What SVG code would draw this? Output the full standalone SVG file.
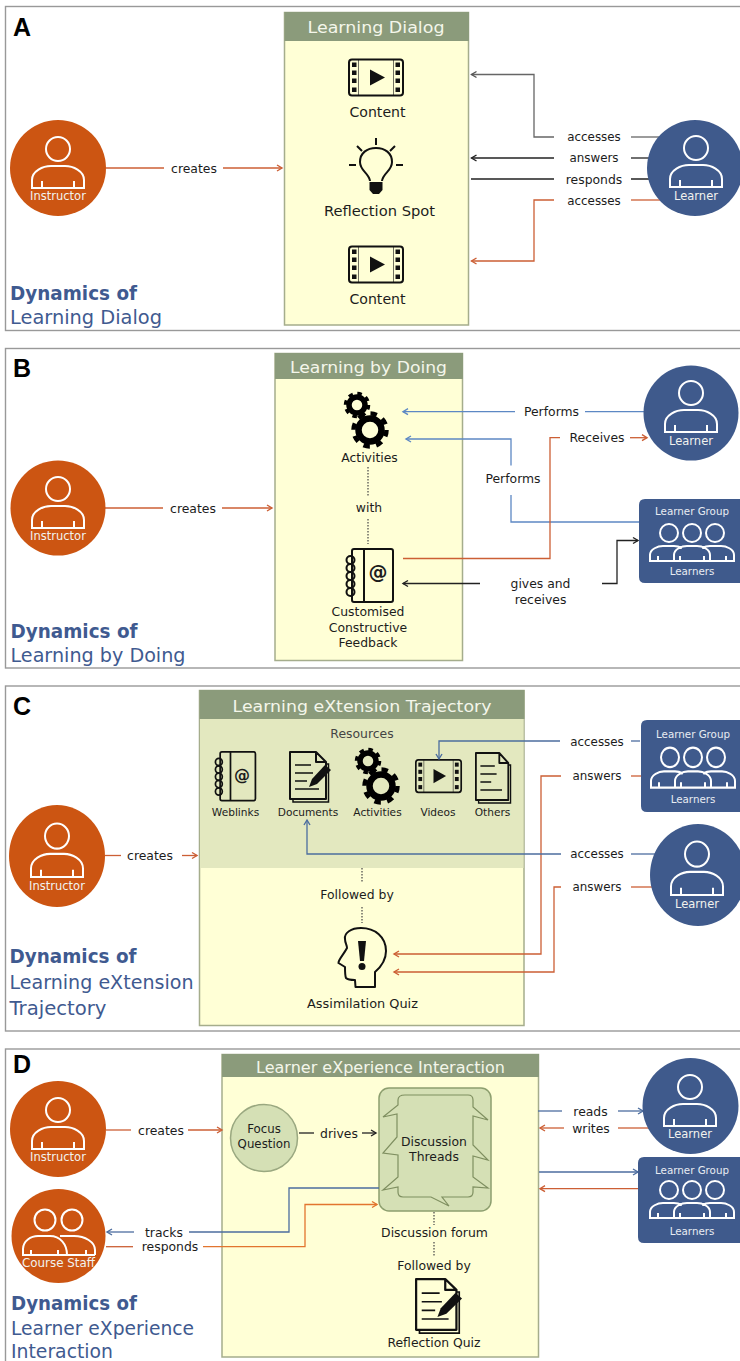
<svg xmlns="http://www.w3.org/2000/svg" width="740" height="1361" viewBox="0 0 740 1361">
<style>
text{font-family:"DejaVu Sans","Liberation Sans",sans-serif;fill:#1c1c1c;font-size:12.4px;text-anchor:middle}
.panel{fill:#fff;stroke:#999;stroke-width:1.4}
.box{fill:#ffffd6;stroke:#a5ad8c;stroke-width:1.5}
.hdr{fill:#8b9b7b}
.hd{fill:#f4f6ea;font-size:16px}
.let{font-family:"Liberation Sans",sans-serif;font-weight:bold;font-size:25px;fill:#000;text-anchor:start}
.t1{font-weight:bold;font-size:20px;fill:#3f5a90;text-anchor:start}
.t2{font-size:20px;fill:#3f5a90;text-anchor:start}
.or{fill:#cc5512}.nv{fill:#3f5a8c}
.wl{fill:none;stroke:#fff;stroke-width:2}
.wt{fill:#f2f2ee;font-size:11.5px}
.ws{fill:#e8ecf2;font-size:10.3px}
.ic{fill:none;stroke:#111;stroke-width:2;stroke-linejoin:round}
.il{fill:none;stroke:#111;stroke-width:1.5}
.k{fill:#111}
.c{fill:none;stroke-width:1.3}
.cor{stroke:#cc5f35}.cbk{stroke:#222}.cgr{stroke:#666}.cbl{stroke:#5d88c4}.cnv{stroke:#4c6d9f}.cam{stroke:#e2752f}
.dot{fill:none;stroke:#444;stroke-width:1.2;stroke-dasharray:1.5 1.5}
.ao{marker-end:url(#mo)}.ab{marker-end:url(#mb)}.ag{marker-end:url(#mg)}.al{marker-end:url(#ml)}.an{marker-end:url(#mn)}.aa{marker-end:url(#ma)}
.sm{font-size:10.6px}
.ac{font-size:12.9px}
.fq{font-size:11.8px}
.lb{font-size:11.9px}
</style>
<defs>
<marker id="mo" markerUnits="userSpaceOnUse" markerWidth="9" markerHeight="9" refX="7" refY="4.5" orient="auto"><path d="M2,1.5 L7,4.5 L2,7.5" fill="none" stroke="#cc5f35" stroke-width="1.4"/></marker>
<marker id="mb" markerUnits="userSpaceOnUse" markerWidth="9" markerHeight="9" refX="7" refY="4.5" orient="auto"><path d="M2,1.5 L7,4.5 L2,7.5" fill="none" stroke="#222" stroke-width="1.4"/></marker>
<marker id="mg" markerUnits="userSpaceOnUse" markerWidth="9" markerHeight="9" refX="7" refY="4.5" orient="auto"><path d="M2,1.5 L7,4.5 L2,7.5" fill="none" stroke="#555" stroke-width="1.4"/></marker>
<marker id="ml" markerUnits="userSpaceOnUse" markerWidth="9" markerHeight="9" refX="7" refY="4.5" orient="auto"><path d="M2,1.5 L7,4.5 L2,7.5" fill="none" stroke="#5d88c4" stroke-width="1.4"/></marker>
<marker id="mn" markerUnits="userSpaceOnUse" markerWidth="9" markerHeight="9" refX="7" refY="4.5" orient="auto"><path d="M2,1.5 L7,4.5 L2,7.5" fill="none" stroke="#4c6d9f" stroke-width="1.4"/></marker>
<marker id="ma" markerUnits="userSpaceOnUse" markerWidth="9" markerHeight="9" refX="7" refY="4.5" orient="auto"><path d="M2,1.5 L7,4.5 L2,7.5" fill="none" stroke="#e2752f" stroke-width="1.4"/></marker>
<g id="person" class="wl"><circle cx="0" cy="-19" r="12"/><path d="M-26,20 V12 C-26,3 -15,-2 -7,-2 H7 C15,-2 26,3 26,12 V20 Z M-16,13 V20 M16,13 V20"/></g>
<g id="crowd" class="wl" stroke-width="1.8"><circle cx="-23" cy="-8" r="9"/><circle cx="0" cy="-8" r="9"/><circle cx="23" cy="-8" r="9"/><path d="M-18,20 V14 C-18,8 -10,5 -5,5 H5 C10,5 18,8 18,14 V20 M-42,20 V14 C-42,8 -34,5 -29,5 H-18 C-15,5 -12,6 -10,7 M42,20 V14 C42,8 34,5 29,5 H18 C15,5 12,6 10,7 M-43,20 H43 M-34,15 V20 M-12,15 V20 M12,15 V20 M34,15 V20"/></g>
<g id="film"><rect x="1" y="1" width="54" height="36" rx="3" class="ic"/><path d="M10.5,1 V37 M45.5,1 V37" fill="none" stroke="#111" stroke-width="0.6"/><g class="k"><rect x="4" y="4" width="4.5" height="4.5"/><rect x="4" y="12" width="4.5" height="4.5"/><rect x="4" y="20" width="4.5" height="4.5"/><rect x="4" y="29" width="4.5" height="4.5"/><rect x="47.5" y="4" width="4.5" height="4.5"/><rect x="47.5" y="12" width="4.5" height="4.5"/><rect x="47.5" y="20" width="4.5" height="4.5"/><rect x="47.5" y="29" width="4.5" height="4.5"/><path d="M22,11 L37,19 L22,27 Z"/></g></g>
<g id="gears" fill="none" stroke="#000"><circle r="8" stroke-width="5.5"/><circle r="11.5" stroke-width="3.5" stroke-dasharray="4.5 4.53"/><g transform="translate(13,25)"><circle r="11.5" stroke-width="6.5"/><circle r="16.5" stroke-width="4.5" stroke-dasharray="6.48 6.48"/></g></g>
<g id="note"><rect x="6" y="1" width="41" height="53" rx="2" class="ic"/><path d="M18,1 V54" class="ic"/><g class="ic"><circle cx="4.5" cy="12" r="4"/><circle cx="4.5" cy="20" r="4"/><circle cx="4.5" cy="28" r="4"/><circle cx="4.5" cy="36" r="4"/><circle cx="4.5" cy="44" r="4"/></g></g>
<g id="doc"><path d="M1,1 H27 L37,11 V48 H1 Z M27,1 V11 H37" class="ic"/><path d="M37,13 H39.5 V51 H4 V48" class="il"/><path d="M6,14 H22 M6,22 H24 M6,30 H18 M6,38 H30" class="il"/></g>
<path id="pencil" d="M20,36 L23,28 L36,14 L42,19 L28,33 Z" fill="#111"/>
</defs>

<g id="panel-A">
<rect class="panel" x="5.5" y="6.5" width="745" height="324"/>
<text class="let" x="13" y="36">A</text>
<text class="t1" x="10" y="300" textLength="127" lengthAdjust="spacingAndGlyphs">Dynamics of</text>
<text class="t2" x="10" y="324" textLength="152" lengthAdjust="spacingAndGlyphs">Learning Dialog</text>
</g>
<g id="panel-B">
<rect class="panel" x="5.5" y="348.5" width="745" height="319.5"/>
<text class="let" x="13" y="377">B</text>
<text class="t1" x="10.5" y="638" textLength="127" lengthAdjust="spacingAndGlyphs">Dynamics of</text>
<text class="t2" x="10.5" y="662" textLength="175" lengthAdjust="spacingAndGlyphs">Learning by Doing</text>
</g>
<g id="panel-C">
<rect class="panel" x="5.5" y="686" width="745" height="345"/>
<text class="let" x="13" y="715">C</text>
<text class="t1" x="9.5" y="963" textLength="127" lengthAdjust="spacingAndGlyphs">Dynamics of</text>
<text class="t2" x="9.5" y="989" textLength="184" lengthAdjust="spacingAndGlyphs">Learning eXtension</text>
<text class="t2" x="9.5" y="1015" textLength="97" lengthAdjust="spacingAndGlyphs">Trajectory</text>
</g>
<g id="panel-D">
<rect class="panel" x="5.5" y="1049" width="745" height="330"/>
<text class="let" x="13" y="1072.5">D</text>
<text class="t1" x="11" y="1310" textLength="126" lengthAdjust="spacingAndGlyphs">Dynamics of</text>
<text class="t2" x="11" y="1335" textLength="183" lengthAdjust="spacingAndGlyphs">Learner eXperience</text>
<text class="t2" x="11" y="1358" textLength="102" lengthAdjust="spacingAndGlyphs">Interaction</text>
</g>

<g id="box-learning-dialog">
<rect class="box" x="284.5" y="12.5" width="184" height="312.5"/>
<rect class="hdr" x="284.5" y="12" width="184.5" height="29"/>
<text class="hd" x="376" y="33" textLength="137" lengthAdjust="spacingAndGlyphs">Learning Dialog</text>
<use href="#film" x="348" y="58.5"/><text x="377.5" y="117" style="font-size:14.1px">Content</text>
<path class="ic" d="M370,181 C369,173 360,171 360,162 C360,153 367,148 376,148 C385,148 392,153 392,162 C392,171 383,173 382,181"/>
<path class="k" d="M369.5,182 H382.5 V190 L379,194 H373 L369.5,190 Z"/>
<path class="ic" d="M376,138 V145 M357,146 L362,151 M395,146 L390,151 M349,165 H356 M396,165 H403"/>
<text x="379.5" y="216" style="font-size:14.7px">Reflection Spot</text>
<use href="#film" x="348" y="245.5"/><text x="377.5" y="304" style="font-size:14.1px">Content</text>
</g>

<g id="box-learning-by-doing">
<rect class="box" x="275" y="353.5" width="187.5" height="307"/>
<rect class="hdr" x="275" y="353" width="188" height="26"/>
<text class="hd" x="368.5" y="373" textLength="157" lengthAdjust="spacingAndGlyphs">Learning by Doing</text>
<use href="#gears" x="357" y="405"/>
<text x="369.5" y="461.5">Activities</text>
<path class="dot" d="M368,467 V497 M368,519 V544"/>
<text x="369" y="512">with</text>
<use href="#note" x="346" y="548"/>
<text x="378" y="579" font-weight="bold" style="font-size:19px">@</text>
<text x="368" y="615.5">Customised</text><text x="368" y="631.5">Constructive</text><text x="368" y="647">Feedback</text>
</g>

<g id="box-learning-extension">
<rect class="box" x="199.5" y="690.5" width="324.5" height="335"/>
<rect x="200" y="719" width="323.5" height="149" fill="#e3e8bf"/>
<rect class="hdr" x="199.5" y="690" width="325" height="29"/>
<text class="hd" x="362" y="712" textLength="259" lengthAdjust="spacingAndGlyphs">Learning eXtension Trajectory</text>
<text x="362" y="738" style="fill:#444">Resources</text>
<use href="#note" transform="translate(215,751) scale(.86,.92)"/>
<text x="242" y="781" font-weight="bold" style="font-size:16px">@</text>
<text x="235.5" y="816" class="sm">Weblinks</text>
<use href="#doc" transform="translate(289,751)"/><use href="#pencil" transform="translate(289,751)"/>
<text x="308" y="816" class="sm">Documents</text>
<use href="#gears" x="368" y="761"/>
<text x="377.5" y="816" class="sm">Activities</text>
<use href="#film" transform="translate(415,759) scale(.84,.9)"/>
<text x="438" y="816" class="sm">Videos</text>
<use href="#doc" transform="translate(475,752) scale(.9,1)"/>
<text x="492.5" y="816" class="sm">Others</text>
<path class="dot" d="M362,868 V883 M362,907 V923"/>
<text x="357" y="899">Followed by</text>
<path class="ic" d="M375,987 V972 C382,966 386,960 386,951 C386,937 375,928 361,928 C351,928 344,933 345,939 C345,943 347,945 347,948 C344,954 338,960 338.5,963 L345,967 C345,971 345,976 346,978 C348,980 352,980 355,980 L355.5,987 Z"/>
<path class="k" d="M358,941 H366 L364,961 H360 Z"/><circle class="k" cx="362" cy="966.5" r="3.5"/>
<text x="362.5" y="1008" class="ac">Assimilation Quiz</text>
</g>

<g id="box-learner-experience">
<rect class="box" x="222" y="1054.5" width="316.5" height="302.5"/>
<rect class="hdr" x="222" y="1054" width="317" height="23"/>
<text class="hd" x="380.5" y="1073" textLength="249" lengthAdjust="spacingAndGlyphs">Learner eXperience Interaction</text>
<g id="focus-question"><circle cx="264" cy="1138" r="33.5" fill="#d5e0b5" stroke="#9aa880" stroke-width="1.5"/>
<text x="264" y="1133" class="fq">Focus</text><text x="264" y="1148" class="fq">Question</text></g>
<text x="339" y="1137.5">drives</text>
<g id="discussion-threads"><rect x="379" y="1088" width="112" height="123" rx="10" fill="#d5e0b5" stroke="#8d9f6f" stroke-width="1.5"/>
<path d="M405,1095 H468 Q473,1095 473,1100 V1107 L488,1120 L473,1116 V1145 L488,1160 L473,1156 V1177 L488,1188 L473,1187 V1192 Q473,1197 468,1197 H442 L449,1206 L431,1197 H403 Q398,1197 398,1192 V1187 L383,1190 L398,1177 V1155 L383,1153 L397,1137 V1114 L383,1117 L398,1105 V1100 Q398,1095 405,1095 Z" fill="none" stroke="#7f8f60" stroke-width="1.2"/>
<text x="434" y="1146">Discussion</text><text x="434" y="1161">Threads</text></g>
<path class="dot" d="M434,1212 V1225 M434,1242 V1257"/>
<text x="434.5" y="1236.5">Discussion forum</text>
<text x="434" y="1270">Followed by</text>
<g transform="translate(415,1278) scale(1.12,1.08)"><use href="#doc"/><use href="#pencil"/></g>
<text x="434" y="1346.5">Reflection Quiz</text>
</g>

<g id="connectors">
<path class="c cor" d="M106,168 H164"/><path class="c cor ao" d="M223,168 H282"/>
<path class="c cgr" d="M631,137 H660"/><path class="c cgr ag" d="M554,137 H534 V74.5 H471.5"/>
<path class="c cbk" d="M631,158 H650"/><path class="c cbk ab" d="M554,158 H471.5"/>
<path class="c cbk" d="M631,179 H650 M554,179 H471"/>
<path class="c cor" d="M631,200 H660"/><path class="c cor ao" d="M554,200 H534 V261 H471.5"/>

<path class="c cor" d="M105,508 H163"/><path class="c cor ao" d="M222,508 H272"/>
<path class="c cbl" d="M644,411.7 H585"/><path class="c cbl al" d="M515,411.7 H403"/>
<path class="c cbl" d="M639,522 H511 V495"/><path class="c cbl al" d="M511,465.5 V439 H406"/>
<path class="c cor" d="M403,558.5 H550 V437.7 H560"/><path class="c cor ao" d="M630,437.7 H647"/>
<path class="c cbk ab" d="M480,583.5 H403"/><path class="c cbk ab" d="M602,583.5 H617 V540.5 H638"/>

<path class="c cor" d="M105,855.5 H121"/><path class="c cor ao" d="M182,855.5 H197"/>
<path class="c cnv" d="M640,741 H631"/><path class="c cnv an" d="M560,741 H439 V759"/>
<path class="c cor" d="M641,776 H631"/><path class="c cor ao" d="M561,776 H541 V954 H394"/>
<path class="c cnv" d="M655,854 H631"/><path class="c cnv an" d="M561,854 H307 V820"/>
<path class="c cor" d="M652,887 H631"/><path class="c cor ao" d="M561,887 H554 V972 H394"/>

<path class="c cor" d="M106,1130 H131"/><path class="c cor ao" d="M188,1130 H222"/>
<path class="c cbk" d="M299,1133 H314"/><path class="c cbk ab" d="M362,1133 H376"/>
<path class="c cnv an" d="M134,1232 H107"/><path class="c cnv" d="M189,1232 H289 V1188 H379"/>
<path class="c cor" d="M106,1246.7 H133"/><path class="c cam aa" d="M203,1246.7 H305 V1204.5 H377"/>
<path class="c cnv" d="M538,1111 H562"/><path class="c cnv an" d="M618,1111 H643"/>
<path class="c cor" d="M650,1128 H618"/><path class="c cor ao" d="M564,1128 H540"/>
<path class="c cnv an" d="M539,1172 H638"/><path class="c cor ao" d="M638,1188.7 H540"/>
<g id="connector-labels">
<text x="194" y="172.5">creates</text>
<text x="594" y="141" class="lb">accesses</text><text x="594" y="162" class="lb">answers</text><text x="594" y="183.5">responds</text><text x="594" y="204.5" class="lb">accesses</text>
<text x="193" y="512.5">creates</text>
<text x="551.5" y="415.5">Performs</text><text x="513" y="483">Performs</text><text x="597" y="441.5">Receives</text>
<text x="540.5" y="588">gives and</text><text x="540.5" y="603.5">receives</text>
<text x="150" y="860">creates</text>
<text x="597" y="745.5" class="lb">accesses</text><text x="597" y="780" class="lb">answers</text><text x="597" y="858" class="lb">accesses</text><text x="597" y="891" class="lb">answers</text>
<text x="161" y="1135">creates</text>
<text x="164" y="1236.5">tracks</text><text x="170" y="1250.5">responds</text>
<text x="590.5" y="1115.5">reads</text><text x="591" y="1133">writes</text>
</g>
</g>

<g id="instructor-A"><circle class="or" cx="58" cy="168" r="48"/><use href="#person" x="58" y="168"/><text class="wt" x="58" y="200">Instructor</text></g>
<g id="learner-A"><circle class="nv" cx="695" cy="168" r="48"/><use href="#person" x="696" y="167"/><text class="wt" x="696" y="200">Learner</text></g>
<g id="instructor-B"><circle class="or" cx="58" cy="508" r="47.5"/><use href="#person" x="58" y="508"/><text class="wt" x="58" y="539.5">Instructor</text></g>
<g id="learner-B"><circle class="nv" cx="691" cy="413" r="47.5"/><use href="#person" x="691" y="412"/><text class="wt" x="691" y="445">Learner</text></g>
<g id="learners-B"><path class="nv" d="M645,499 H760 V583 H645 Q639,583 639,577 V505 Q639,499 645,499 Z"/><use href="#crowd" x="692" y="541"/><text class="ws" x="692" y="515">Learner Group</text><text class="ws" x="692" y="575">Learners</text></g>
<g id="instructor-C"><ellipse class="or" cx="57" cy="856" rx="48" ry="51"/><use href="#person" transform="translate(57,856) scale(1,1.05)"/><text class="wt" x="57" y="889.5">Instructor</text></g>
<g id="learners-C"><path class="nv" d="M647,720 H760 V812 H647 Q641,812 641,806 V726 Q641,720 647,720 Z"/><use href="#crowd" transform="translate(693,766) scale(1,1.08)"/><text class="ws" x="693" y="738">Learner Group</text><text class="ws" x="693" y="803">Learners</text></g>
<g id="learner-C"><ellipse class="nv" cx="698" cy="875" rx="48" ry="51"/><use href="#person" transform="translate(697,874) scale(1,1.05)"/><text class="wt" x="697" y="908">Learner</text></g>
<g id="instructor-D"><circle class="or" cx="58" cy="1129" r="48"/><use href="#person" x="58" y="1129"/><text class="wt" x="58" y="1161">Instructor</text></g>
<g id="course-staff-D"><circle class="or" cx="58.5" cy="1236" r="47"/>
<g class="wl"><circle cx="45" cy="1220" r="10.5"/><circle cx="72" cy="1220" r="10.5"/><path d="M23,1255 V1249 C23,1241 31,1236 38,1236 H50 C60,1236 67,1244 67,1255 M60,1236 H74 C85,1236 95,1242 95,1250 V1255 M22,1255 H95 M31,1250 V1255 M58,1250 V1255 M86,1250 V1255"/></g>
<text class="wt" x="58.5" y="1267" textLength="73" lengthAdjust="spacingAndGlyphs">Course Staff</text></g>
<g id="learner-D"><circle class="nv" cx="690.5" cy="1106" r="48"/><use href="#person" x="690" y="1106"/><text class="wt" x="690" y="1138">Learner</text></g>
<g id="learners-D"><path class="nv" d="M644,1157 H760 V1243 H644 Q638,1243 638,1237 V1163 Q638,1157 644,1157 Z"/><use href="#crowd" x="692" y="1198"/><text class="ws" x="692" y="1174">Learner Group</text><text class="ws" x="692" y="1235">Learners</text></g>
</svg>
